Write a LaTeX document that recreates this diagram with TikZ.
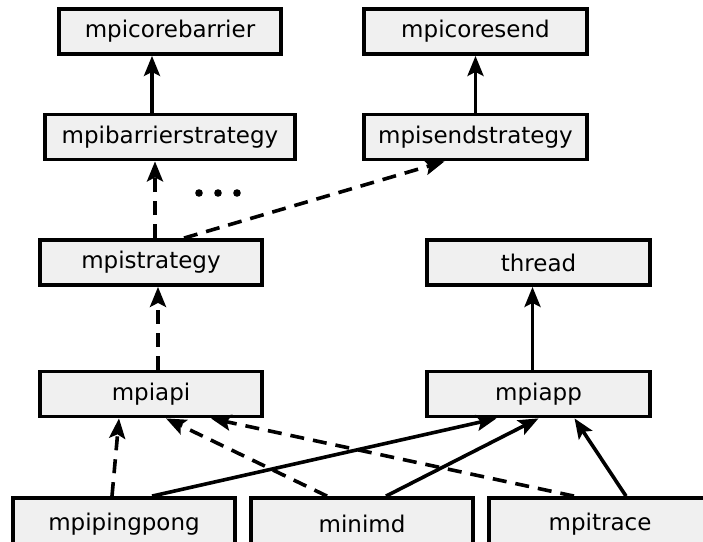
\documentclass[tikz,border=0pt]{standalone}
\usepackage{fontspec}
\setmainfont{DejaVu Sans}
\usetikzlibrary{arrows.meta}
\definecolor{boxfill}{HTML}{F0F0F0}
\tikzset{
  box/.style={draw=black, line width=3.8pt, fill=boxfill, rectangle, inner sep=0pt,
    minimum height=45pt, font=\fontsize{23}{27}\selectfont},
  dep/.style={line width=3.6pt, dash pattern=on 14pt off 9pt, -{Stealth[length=20pt,width=16pt,inset=4pt]}},
  inh/.style={line width=3.6pt, -{Stealth[length=20pt,width=16pt,inset=4pt]}},
}
\begin{document}
\begin{tikzpicture}[x=1pt,y=-1pt]
\useasboundingbox (0,0) rectangle (703,541);
\clip (0,0) rectangle (703,541);
\node[box, minimum width=222pt] (cb) at (170,31.5) {mpicorebarrier};
\node[box, minimum width=223pt] (cs) at (475.5,31.5) {mpicoresend};
\node[box, minimum width=250pt] (bs) at (170,137) {mpibarrierstrategy};
\node[box, minimum width=223pt] (ss) at (475.5,137) {mpisendstrategy};
\node[box, minimum width=222pt] (st) at (151,262.5) {mpistrategy};
\node[box, minimum width=223pt] (th) at (538.5,262.5) {thread};
\node[box, minimum width=222pt] (api) at (151,394) {mpiapi};
\node[box, minimum width=223pt] (app) at (538.5,394) {mpiapp};
\node[box, minimum width=222pt, minimum height=52pt] (pp) at (124,524) {mpipingpong};
\node[box, minimum width=222pt, minimum height=52pt] (md) at (362,524) {minimd};
\node[box, minimum width=222pt, minimum height=52pt] (tr) at (600,524) {mpitrace};
\coordinate (dots) at (218,193);
\fill ([xshift=-19pt]dots) circle (3.8pt) (dots) circle (3.8pt) ([xshift=19pt]dots) circle (3.8pt);
% solid
\draw[inh] ([xshift=-18pt]bs.north) -- ([xshift=-18pt]cb.south);
\draw[inh] (ss.north) -- (cs.south);
\draw[inh] ([xshift=-6pt]app.north) -- ([xshift=-6pt]th.south);
\draw[inh] ([xshift=28pt]pp.north) -- ([xshift=-42pt]app.south);
\draw[inh] ([xshift=24pt]md.north) -- ([xshift=0pt]app.south);
\draw[inh] ([xshift=26pt]tr.north) -- ([xshift=36pt]app.south);
% dashed
\draw[dep] ([xshift=4pt]st.north) -- ([xshift=-15pt]bs.south);
\draw[dep] ([xshift=33pt]st.north) -- ([xshift=-31pt]ss.south);
\draw[dep] ([xshift=7pt]api.north) -- ([xshift=7pt]st.south);
\draw[dep] ([xshift=-12pt]pp.north) -- ([xshift=-32pt]api.south);
\draw[dep] ([xshift=-35pt]md.north) -- ([xshift=15pt]api.south);
\draw[dep] ([xshift=-26pt]tr.north) -- ([xshift=60pt]api.south);
\end{tikzpicture}
\end{document}
